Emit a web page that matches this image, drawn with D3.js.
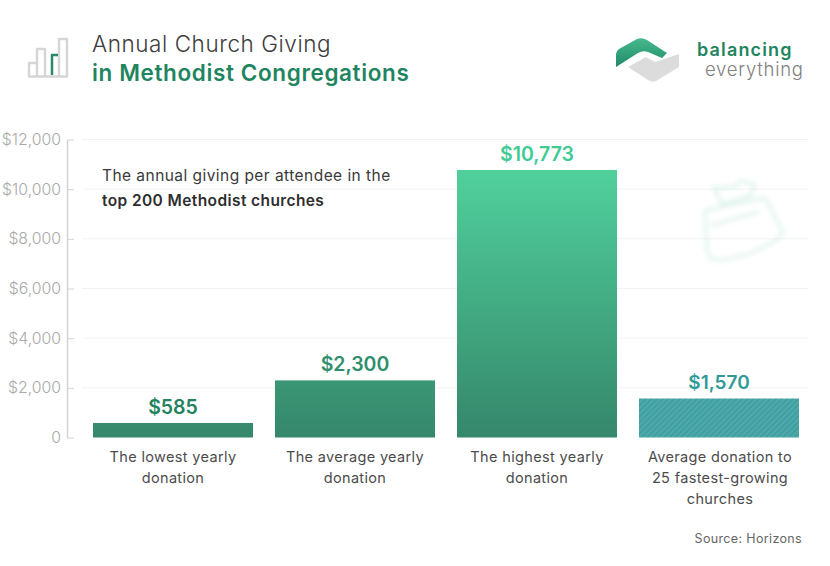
<!DOCTYPE html>
<html>
<head>
<meta charset="utf-8">
<script src="https://cdn.jsdelivr.net/npm/d3@7"></script>
<style>
  html, body { margin: 0; padding: 0; background: #fff; }
  svg { display: block; }
  text { font-family: Inter, "Open Sans", sans-serif; }
</style>
</head>
<body>
<svg id="chart" width="830" height="566"></svg>
<script>
const categories = [
  ['The lowest yearly', 'donation'],
  ['The average yearly', 'donation'],
  ['The highest yearly', 'donation'],
  ['Average donation to', '25 fastest-growing', 'churches']
];
const values = [585, 2300, 10773, 1570];
const valueLabels = ['$585', '$2,300', '$10,773', '$1,570'];
const labelColors = ['#23835f', '#2f8f6d', '#3ecb94', '#2f9a98'];
const yTicks = [0, 2000, 4000, 6000, 8000, 10000, 12000];

const svg = d3.select('#chart');
const defs = svg.append('defs');

const y = d3.scaleLinear().domain([0, 12000]).range([437.5, 139.5]);
const x = d3.scaleBand()
  .domain(d3.range(values.length))
  .range([82, 810])
  .paddingInner(0.1209)
  .paddingOuter(0.0604);

// bar gradient runs over the full height of the tallest bar
const grad = defs.append('linearGradient')
  .attr('id', 'barGrad')
  .attr('gradientUnits', 'userSpaceOnUse')
  .attr('x1', 0).attr('x2', 0)
  .attr('y1', y(10773)).attr('y2', y(0));
grad.append('stop').attr('offset', 0).attr('stop-color', '#50d09c');
grad.append('stop').attr('offset', 1).attr('stop-color', '#35876b');

const hatch = defs.append('pattern')
  .attr('id', 'hatch')
  .attr('patternUnits', 'userSpaceOnUse')
  .attr('width', 4).attr('height', 4)
  .attr('patternTransform', 'rotate(-45)');
hatch.append('rect').attr('width', 4).attr('height', 4).attr('fill', '#3f9fa1');
hatch.append('rect').attr('width', 4).attr('height', 1.6).attr('fill', '#52abac');

defs.append('filter').attr('id', 'soft')
  .append('feGaussianBlur').attr('stdDeviation', 2.6);
defs.append('filter').attr('id', 'softer')
  .append('feGaussianBlur').attr('stdDeviation', 0.4);

// grid
svg.append('g').selectAll('line')
  .data(yTicks.slice(1))
  .enter().append('line')
  .attr('x1', 82).attr('x2', 808)
  .attr('y1', d => y(d)).attr('y2', d => y(d))
  .attr('stroke', '#f2f2f2').attr('stroke-width', 1);

// faded jar in the background
const jar = svg.append('g')
  .attr('fill', 'none')
  .attr('stroke', '#d6f0e6')
  .attr('stroke-width', 3.5)
  .attr('stroke-linecap', 'round')
  .attr('opacity', 0.7)
  .attr('filter', 'url(#soft)');
jar.append('path').attr('d', 'M705 212 L707 250 Q709 261 722 260 Q752 256 776 240 L783 232 L766 199');
jar.append('path').attr('d', 'M712 225 L758 212');
jar.append('path').attr('d', 'M706 210 L764 198');
jar.append('path').attr('d', 'M714 188 L733 187 L742 181 L755 185 L750 196 L722 204 Z');

// y axis
const yAxis = d3.axisLeft(y)
  .tickValues(yTicks)
  .tickSize(6)
  .tickSizeOuter(0)
  .tickFormat(d => d === 0 ? '0' : '$' + d3.format(',')(d));
const yG = svg.append('g')
  .attr('transform', 'translate(67,0)')
  .call(yAxis);
yG.select('.domain').attr('stroke', '#d4d4d4').attr('stroke-width', 1.5);
yG.selectAll('.tick line')
  .attr('stroke', '#d4d4d4')
  .attr('x1', 0).attr('x2', 7);
yG.selectAll('.tick text')
  .attr('x', -6)
  .attr('fill', '#a9a9a9')
  .attr('font-size', 15.8)
  .style('font-family', 'Inter, sans-serif')
  .style('font-weight', 300);

// bars
svg.append('g').selectAll('rect')
  .data(values)
  .enter().append('rect')
  .attr('x', (d, i) => x(i))
  .attr('width', x.bandwidth())
  .attr('y', d => y(d))
  .attr('height', d => y(0) - y(d))
  .attr('fill', (d, i) => i === 3 ? 'url(#hatch)' : 'url(#barGrad)');

// value labels
svg.append('g').selectAll('text')
  .data(values)
  .enter().append('text')
  .attr('x', (d, i) => x(i) + x.bandwidth() / 2)
  .attr('y', (d, i) => y(d) - (i === 3 ? 10 : 9))
  .attr('text-anchor', 'middle')
  .attr('font-size', (d, i) => i === 3 ? 19 : 19.5)
  .attr('font-weight', 600)
  .attr('fill', (d, i) => labelColors[i])
  .text((d, i) => valueLabels[i]);

// category labels
const cat = svg.append('g').selectAll('text')
  .data(categories)
  .enter().append('text')
  .attr('text-anchor', 'middle')
  .attr('font-size', 14.5)
  .attr('letter-spacing', 0.35)
  .attr('fill', '#4c4c4c');
cat.each(function(lines, i) {
  d3.select(this).selectAll('tspan')
    .data(lines)
    .enter().append('tspan')
    .attr('x', x(i) + x.bandwidth() / 2 + (i === 3 ? 1 : 0))
    .attr('y', (d, j) => 462 + j * 21)
    .text(d => d);
});

// annotation
svg.append('text').attr('x', 102).attr('y', 181)
  .attr('font-size', 15.5).attr('letter-spacing', 0.45).attr('fill', '#3a3a3a')
  .text('The annual giving per attendee in the');
svg.append('text').attr('x', 102).attr('y', 206)
  .attr('font-size', 15.5).attr('letter-spacing', 0.4).attr('font-weight', 600).attr('fill', '#2e2e2e')
  .text('top 200 Methodist churches');

// title
svg.append('text').attr('x', 92).attr('y', 52)
  .attr('font-size', 22.5).attr('font-weight', 300).attr('fill', '#3c3c3c')
  .attr('letter-spacing', 0.55)
  .text('Annual Church Giving');
svg.append('text').attr('x', 92).attr('y', 81)
  .attr('font-size', 22.5).attr('font-weight', 600).attr('fill', '#1f8560')
  .attr('letter-spacing', 0.62)
  .text('in Methodist Congregations');

// title icon
const icon = svg.append('g').attr('fill', 'none').attr('stroke-linejoin', 'round');
icon.append('path')
  .attr('d', 'M29 76 V63 H37 V76 M37 76 V49 H45 V76 M59 76 V39 H67 V76 M28 76.5 H68')
  .attr('stroke', '#d6d6d6').attr('stroke-width', 2.5);
icon.append('path')
  .attr('d', 'M52 75 V55 H58')
  .attr('stroke', '#2a8a68').attr('stroke-width', 2.5);

// logo
const logoGrad = defs.append('linearGradient').attr('id', 'logoGrad')
  .attr('x1', 0).attr('x2', 0).attr('y1', 0).attr('y2', 1);
logoGrad.append('stop').attr('offset', 0).attr('stop-color', '#47b98e');
logoGrad.append('stop').attr('offset', 1).attr('stop-color', '#1f8a68');
const logo = svg.append('g').attr('filter', 'url(#softer)');
logo.append('path')
  .attr('d', 'M616 67 V54 Q616 51 619 49 L637 39 Q642 37 647 40 L667 53 L662 58 L648 52 Q643 50 638 53 Z')
  .attr('fill', 'url(#logoGrad)');
logo.append('path')
  .attr('d', 'M628 67 L646 57 L655 62 L679 54 V67 L656 81 Q652 83 648 80 Z')
  .attr('fill', '#dcdcdc');

svg.append('text').attr('x', 697).attr('y', 56)
  .attr('font-size', 18).attr('font-weight', 600).attr('fill', '#1f8560')
  .attr('letter-spacing', 1.15)
  .text('balancing');
svg.append('text').attr('x', 705).attr('y', 76)
  .attr('font-size', 18.5).attr('font-weight', 300).attr('fill', '#808080')
  .attr('letter-spacing', 0.75)
  .text('everything');

// source
svg.append('text').attr('x', 802).attr('y', 543)
  .attr('text-anchor', 'end')
  .attr('font-size', 12.5).attr('letter-spacing', 0.35).attr('fill', '#666')
  .text('Source: Horizons');
</script>
</body>
</html>
